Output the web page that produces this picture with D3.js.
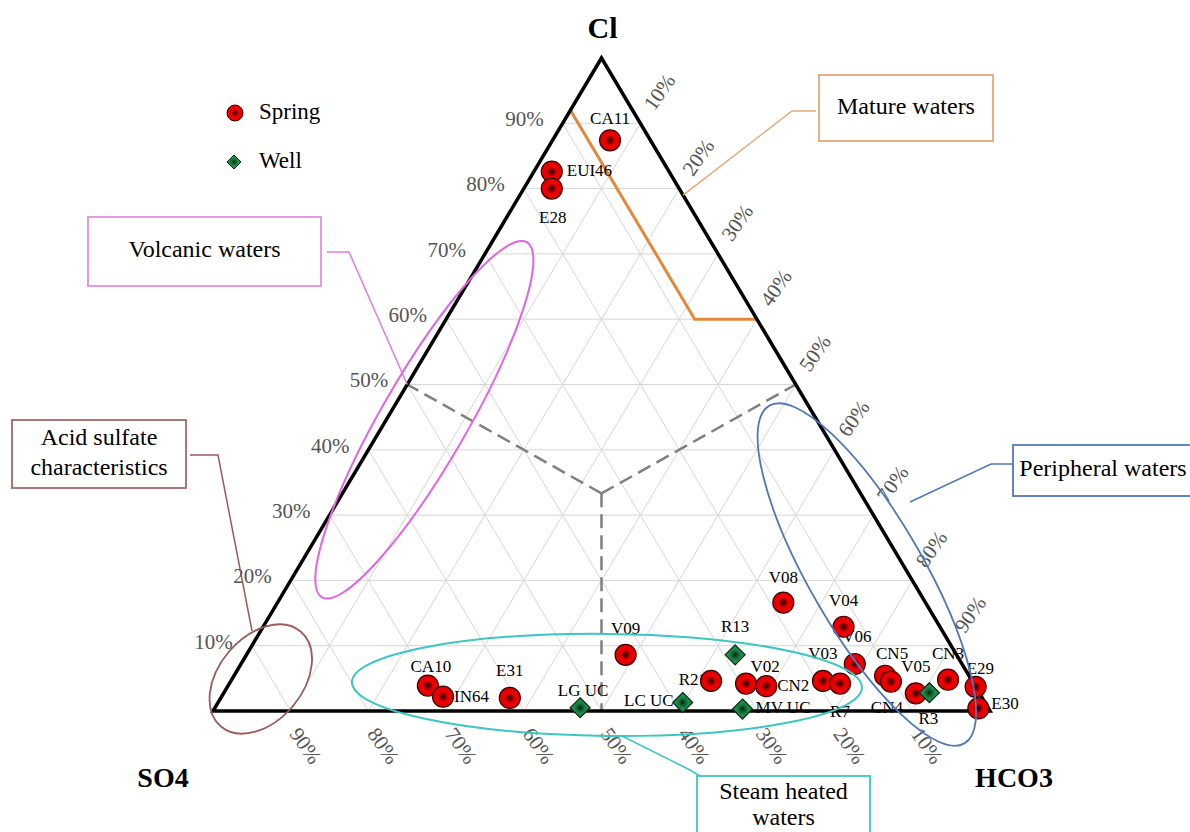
<!DOCTYPE html>
<html>
<head>
<meta charset="utf-8">
<script src="https://cdn.jsdelivr.net/npm/d3@7"></script>
<style>
  body { margin: 0; background: #fff; }
  svg text { font-family: "Liberation Serif", "Times New Roman", serif; }
</style>
</head>
<body>
<script>
// ternary data (percent)
var names  = ["CA11","EUI46","E28","V09","CA10","IN64","E31","R21","V02","CN2","V08","V04","V06","V03","R7","CN5","CN4","V05","CN3","E29","E30",
              "R13","LG UC","LC UC","MV UC","R3"];
var types  = ["Spring","Spring","Spring","Spring","Spring","Spring","Spring","Spring","Spring","Spring","Spring","Spring","Spring","Spring","Spring","Spring","Spring","Spring","Spring","Spring","Spring",
              "Well","Well","Well","Well","Well"];
var clVals   = [87.4, 82.6, 80.0, 8.6, 3.9, 2.2, 2.0, 4.6, 4.2, 3.8, 16.6, 12.9, 7.2, 4.6, 4.2, 5.4, 4.5, 2.7, 4.8, 3.7, 0.4,
                8.6, 0.5, 1.3, 0.3, 2.8];
var hco3Vals = [7.4, 2.3, 3.6, 48.8, 25.7, 28.5, 37.2, 61.8, 66.5, 69.3, 65.1, 74.7, 79.0, 76.2, 78.6, 83.8, 85.0, 89.1, 92.2, 96.3, 98.3,
                62.9, 47.0, 59.8, 68.0, 90.8];
var tickVals = [10, 20, 30, 40, 50, 60, 70, 80, 90];
var legendItems = ["Spring", "Well"];

// label placement next to each point: dx, dy, anchor
var labelPos = {
  "CA11": [0,-20,"middle"], "EUI46": [15,0,"start"], "E28": [1,30,"middle"], "V09": [0,-25,"middle"],
  "CA10": [3,-17,"middle"], "IN64": [11,1,"start"], "E31": [0,-26,"middle"], "R21": [-4,0,"end"],
  "V02": [19,-15,"middle"], "CN2": [11,1,"start"], "V08": [0,-24,"middle"], "V04": [0,-25,"middle"],
  "V06": [2,-26,"middle"], "V03": [0,-26,"middle"], "R7": [0,30,"middle"], "CN5": [7,-21,"middle"],
  "CN4": [-4,27,"middle"], "V05": [0,-25,"middle"], "CN3": [0,-25,"middle"], "E29": [-9,-17,"start"],
  "E30": [13,-3,"start"], "R13": [0,-27,"middle"], "LG UC": [3,-16,"middle"], "LC UC": [-9,0,"end"],
  "MV UC": [13,0,"start"], "R3": [-1,27,"middle"]
};

var data = names.map(function(n, i) {
  return {name: n, type: types[i], cl: clVals[i], hco3: hco3Vals[i], so4: 100 - clVals[i] - hco3Vals[i]};
});

var width = 1190, height = 832;

// Cl -> vertical, (HCO3 + Cl/2) -> horizontal
var yScale = d3.scaleLinear().domain([0, 100]).range([711, 58]);
var xScale = d3.scaleLinear().domain([0, 100]).range([213, 990]);
function tx(cl, hco3) { return xScale(hco3 + cl / 2); }
function ty(cl) { return yScale(cl); }
function pt(cl, hco3) { return [tx(cl, hco3), ty(cl)]; }

var svg = d3.select("body").append("svg")
  .attr("width", width)
  .attr("height", height);

var defs = svg.append("defs");
var rg = defs.append("radialGradient").attr("id", "redball");
rg.append("stop").attr("offset", "0%").attr("stop-color", "#1a0000");
rg.append("stop").attr("offset", "22%").attr("stop-color", "#7a0000");
rg.append("stop").attr("offset", "50%").attr("stop-color", "#f00000");
rg.append("stop").attr("offset", "100%").attr("stop-color", "#e00000");
var gg = defs.append("radialGradient").attr("id", "greenball");
gg.append("stop").attr("offset", "0%").attr("stop-color", "#021a0a");
gg.append("stop").attr("offset", "25%").attr("stop-color", "#0d5a2a");
gg.append("stop").attr("offset", "60%").attr("stop-color", "#1f8c4c");
gg.append("stop").attr("offset", "100%").attr("stop-color", "#1f8c4c");

var line = d3.line();

// grid
var grid = svg.append("g").attr("stroke", "#d6d6d6").attr("stroke-width", 1).attr("fill", "none");
tickVals.forEach(function(k) {
  grid.append("path").attr("d", line([pt(k, 0), pt(k, 100 - k)]));          // Cl const
  grid.append("path").attr("d", line([pt(0, k), pt(100 - k, k)]));          // HCO3 const
  grid.append("path").attr("d", line([pt(0, 100 - k), pt(100 - k, 0)]));    // SO4 const
});

// dashed dividers
var c3 = 100 / 3;
var dash = svg.append("g").attr("stroke", "#7f7f7f").attr("stroke-width", 2.5)
  .attr("stroke-dasharray", "14,7").attr("fill", "none");
dash.append("path").attr("d", line([pt(c3, c3), pt(50, 0)]));
dash.append("path").attr("d", line([pt(c3, c3), pt(50, 50)]));
dash.append("path").attr("d", line([pt(c3, c3), pt(0, 50)]));

// mature waters boundary
svg.append("path")
  .attr("d", line([pt(92, 0), pt(60, 32), pt(60, 40)]))
  .attr("fill", "none").attr("stroke", "#e3883a").attr("stroke-width", 3);

// triangle outline
svg.append("path")
  .attr("d", line([pt(100, 0), pt(0, 0), pt(0, 100)]) + "Z")
  .attr("fill", "none").attr("stroke", "#000").attr("stroke-width", 3.5)
  .attr("stroke-linejoin", "miter");

// axis tick labels
var tickG = svg.append("g").attr("fill", "#555").style("font-size", "21px");
tickVals.forEach(function(k) {
  var p = pt(k, 0);
  tickG.append("text").attr("x", p[0] - 19).attr("y", p[1] - 2)
    .attr("text-anchor", "end").attr("dominant-baseline", "middle").text(k + "%");
  var b = pt(0, 100 - k);
  tickG.append("text").attr("text-anchor", "middle").attr("dominant-baseline", "middle")
    .attr("transform", "translate(" + (b[0] + 13) + "," + (b[1] + 36) + ") rotate(55)").text(k + "%");
  var r = pt(100 - k, k);
  tickG.append("text").attr("text-anchor", "middle").attr("dominant-baseline", "middle")
    .attr("transform", "translate(" + (r[0] + 21) + "," + (r[1] - 30) + ") rotate(-55)").text(k + "%");
});

// vertex titles
var apex = pt(100, 0), left = pt(0, 0), right = pt(0, 100);
svg.append("text").attr("x", apex[0] + 1).attr("y", apex[1] - 20).attr("text-anchor", "middle")
  .style("font-size", "30px").style("font-weight", "bold").text("Cl");
svg.append("text").attr("x", left[0] - 50).attr("y", left[1] + 76).attr("text-anchor", "middle")
  .style("font-size", "28px").style("font-weight", "bold").text("SO4");
svg.append("text").attr("x", right[0] + 24).attr("y", right[1] + 76).attr("text-anchor", "middle")
  .style("font-size", "28px").style("font-weight", "bold").text("HCO3");

// point labels (drawn under markers)
svg.append("g").selectAll("text")
  .data(data)
  .enter().append("text")
  .attr("x", function(d) { return tx(d.cl, d.hco3) + labelPos[d.name][0]; })
  .attr("y", function(d) { return ty(d.cl) + labelPos[d.name][1]; })
  .attr("text-anchor", function(d) { return labelPos[d.name][2]; })
  .attr("dominant-baseline", "middle")
  .style("font-size", "17px")
  .text(function(d) { return d.name; });

function diamond(s) { return "M0," + (-s) + "L" + s + ",0L0," + s + "L" + (-s) + ",0Z"; }

// markers
var marks = svg.append("g");
marks.selectAll(".spring")
  .data(data.filter(function(d) { return d.type == "Spring"; }))
  .enter().append("circle")
  .attr("class", "spring")
  .attr("cx", function(d) { return tx(d.cl, d.hco3); })
  .attr("cy", function(d) { return ty(d.cl); })
  .attr("r", 10.5)
  .attr("fill", "url(#redball)").attr("stroke", "#3a0000").attr("stroke-width", 1.2);
marks.selectAll(".well")
  .data(data.filter(function(d) { return d.type == "Well"; }))
  .enter().append("path")
  .attr("class", "well")
  .attr("transform", function(d) { return "translate(" + tx(d.cl, d.hco3) + "," + ty(d.cl) + ")"; })
  .attr("d", diamond(10))
  .attr("fill", "url(#greenball)").attr("stroke", "#0b2a14").attr("stroke-width", 1.2);

// legend
var legend = svg.append("g");
legendItems.forEach(function(t, i) {
  var y = 113 + i * 49;
  if (t == "Spring") {
    legend.append("circle").attr("cx", 235).attr("cy", y).attr("r", 8)
      .attr("fill", "url(#redball)").attr("stroke", "#3a0000").attr("stroke-width", 1);
  } else {
    legend.append("path").attr("transform", "translate(234," + y + ")").attr("d", diamond(7))
      .attr("fill", "url(#greenball)").attr("stroke", "#0b2a14").attr("stroke-width", 1);
  }
  legend.append("text").attr("x", 259).attr("y", y + 1).attr("dominant-baseline", "middle")
    .style("font-size", "23px").text(t);
});

// annotation groups: ellipses, leaders, boxes
function ellipse(cl, hco3, rx, ry, rot, color, sw) {
  var p = pt(cl, hco3);
  svg.append("ellipse")
    .attr("transform", "translate(" + p[0] + "," + p[1] + ") rotate(" + rot + ")")
    .attr("rx", rx).attr("ry", ry)
    .attr("fill", "none").attr("stroke", color).attr("stroke-width", sw);
}
function box(x, y, w, h, color, lines, step, top) {
  svg.append("rect").attr("x", x).attr("y", y).attr("width", w).attr("height", h)
    .attr("fill", "#fff").attr("stroke", color).attr("stroke-width", 1.8);
  var cy = top || (y + h / 2);
  lines.forEach(function(s, i) {
    svg.append("text").attr("x", x + w / 2)
      .attr("y", cy + (i - (lines.length - 1) / 2) * (step || 30))
      .attr("text-anchor", "middle").attr("dominant-baseline", "middle")
      .style("font-size", "24px").text(s);
  });
}
function leader(pts, color) {
  svg.append("path").attr("d", line(pts)).attr("fill", "none")
    .attr("stroke", color).attr("stroke-width", 1.5);
}

// volcanic
ellipse(44.6, 4.9, 205, 43, -60, "#e264e2", 2);
leader([[327, 252], [349, 252], pt(50, 0)], "#e27ae2");
box(88, 217, 233, 69, "#e48ee4", ["Volcanic waters"]);

// acid sulfate
ellipse(4.9, 3.7, 62, 42, -50, "#9b5a5a", 1.8);
leader([[190, 455], [218, 455], [252, 631]], "#9b5a5a");
box(12, 420, 174, 68, "#a06a6a", ["Acid sulfate", "characteristics"]);

// mature
leader([[816, 111], [792, 111], pt(79, 21)], "#e6a878");
box(819, 75, 174, 66, "#e6a878", ["Mature waters"]);

// steam heated
ellipse(4.0, 48.7, 255, 51, 0.6, "#3cc6c2", 2);
leader([[622, 736], [690, 770], [700, 776]], "#3cc6c2");
box(697, 776, 173, 70, "#3cc6c2", ["Steam heated", "waters"], 26, 806);

// peripheral
ellipse(20.9, 73.7, 195, 57, 60, "#4f78b8", 1.8);
leader([[1013, 464], [991, 464], [910, 502]], "#4f78b8");
box(1013, 445, 180, 51, "#4f78b8", ["Peripheral waters"]);
</script>
</body>
</html>
